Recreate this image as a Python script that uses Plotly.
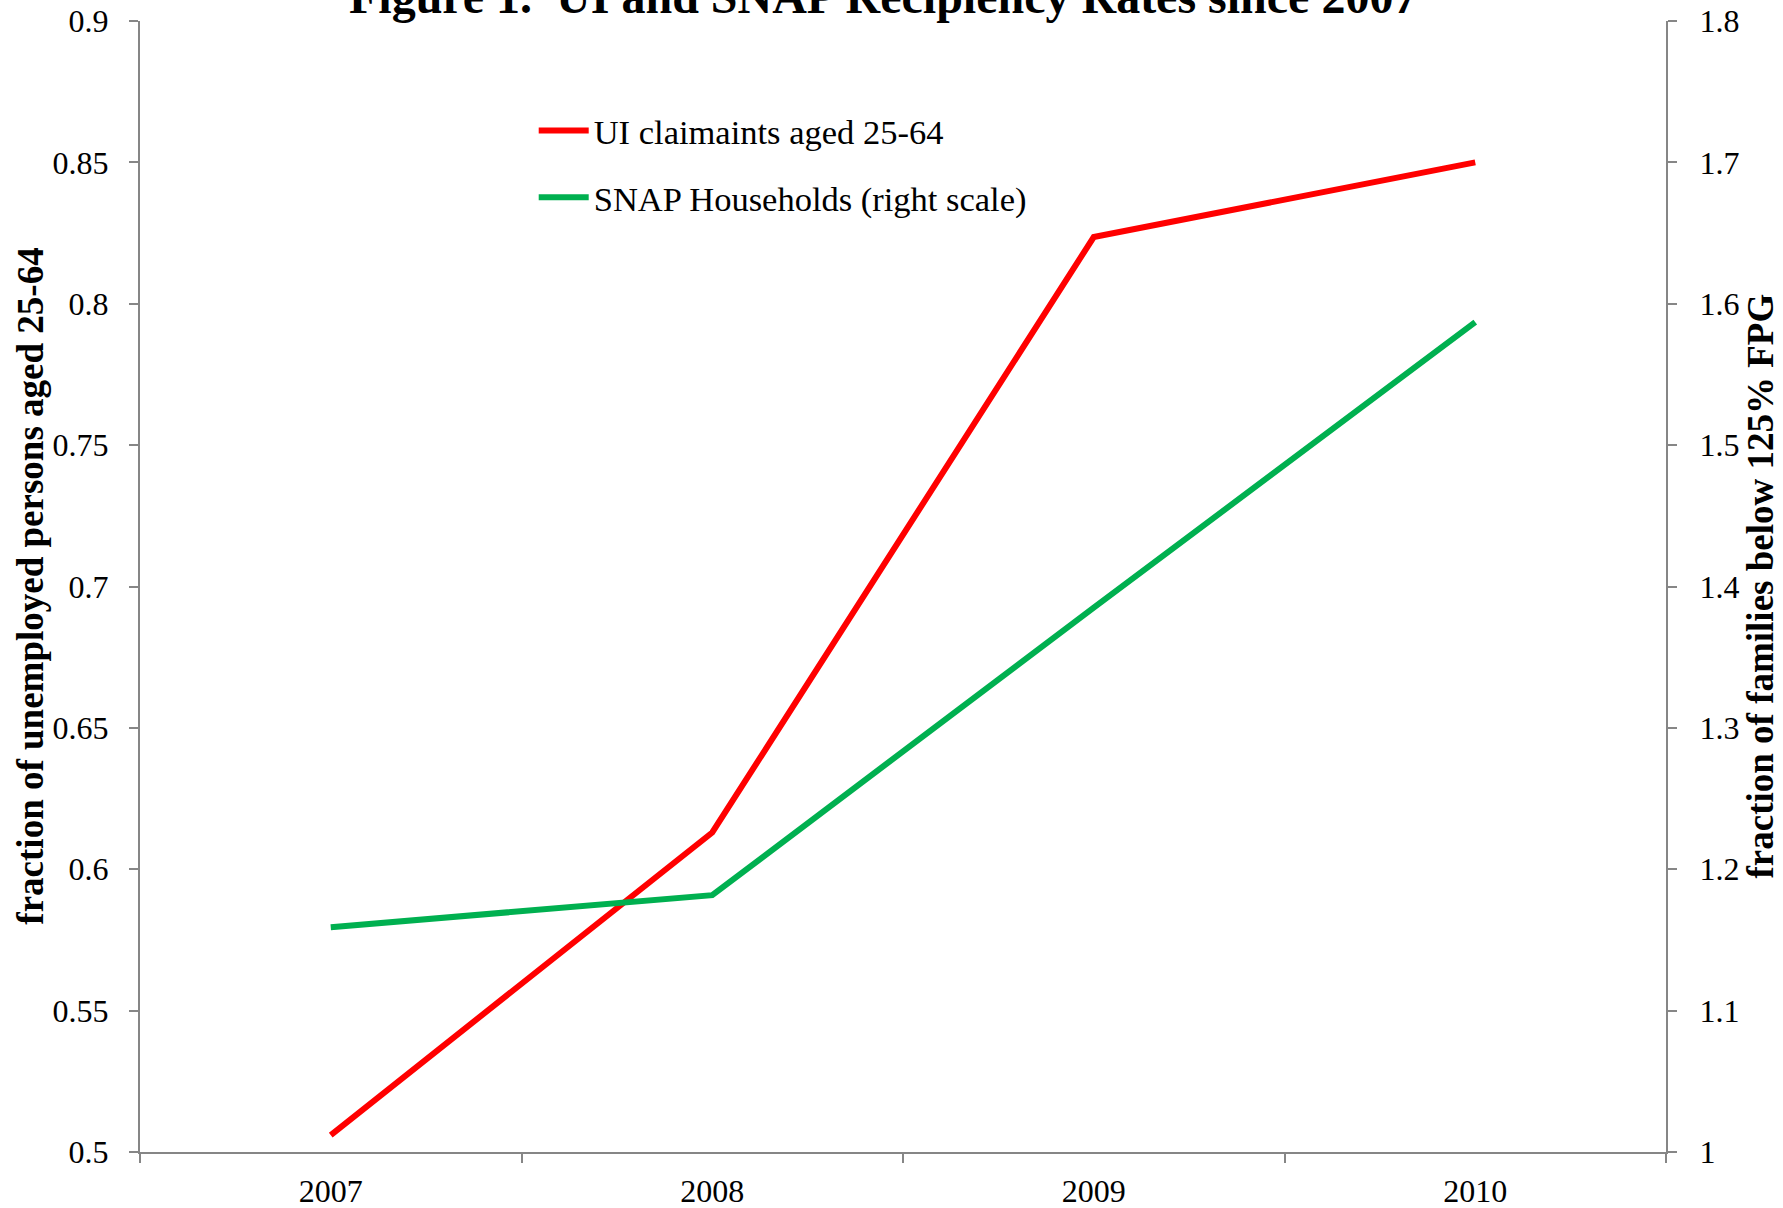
import plotly.graph_objects as go

years = ["2007", "2008", "2009", "2010"]
ui_claimants = [0.506, 0.613, 0.8236, 0.85]
snap_households = [1.159, 1.1817, 1.385, 1.587]

left_tickvals = [0.5, 0.55, 0.6, 0.65, 0.7, 0.75, 0.8, 0.85, 0.9]
left_ticktext = ["0.5", "0.55", "0.6", "0.65", "0.7", "0.75", "0.8", "0.85", "0.9"]
right_tickvals = [1.0, 1.1, 1.2, 1.3, 1.4, 1.5, 1.6, 1.7, 1.8]
right_ticktext = ["1", "1.1", "1.2", "1.3", "1.4", "1.5", "1.6", "1.7", "1.8"]

FONT = "Liberation Serif, Times New Roman, serif"
AXIS = "#868686"

fig = go.Figure()
fig.add_trace(go.Scatter(x=years, y=ui_claimants, mode="lines",
                         name="UI claimaints aged 25-64", legendgroup="a",
                         line=dict(color="#FF0000", width=6)))
fig.add_trace(go.Scatter(x=years, y=snap_households, mode="lines",
                         name="SNAP Households (right scale)", legendgroup="b",
                         line=dict(color="#00B050", width=6), yaxis="y2"))

fig.update_layout(
    width=1783, height=1208,
    margin=dict(l=140, r=117, t=21, b=56),
    paper_bgcolor="white", plot_bgcolor="white",
    font=dict(family=FONT, size=32, color="black"),
    showlegend=True,
    legend=dict(x=0.258, y=0.9288, xanchor="left", yanchor="top",
                font=dict(size=34.5, family=FONT), tracegroupgap=19,
                itemwidth=50, bgcolor="rgba(0,0,0,0)"),
    xaxis=dict(type="category", range=[-0.5, 3.5], tickson="boundaries",
               showline=True, linecolor=AXIS, linewidth=2, automargin=False,
               ticks="outside", ticklen=9, tickwidth=2, tickcolor=AXIS,
               showgrid=False, zeroline=False, ticklabelstandoff=10,
               tickfont=dict(size=32)),
    yaxis=dict(range=[0.5, 0.9], tickvals=left_tickvals, ticktext=left_ticktext,
               showline=True, linecolor=AXIS, linewidth=2, automargin=False,
               ticks="outside", ticklen=9, tickwidth=2, tickcolor=AXIS,
               showgrid=False, zeroline=False, ticklabelstandoff=14,
               tickfont=dict(size=32)),
    yaxis2=dict(range=[1.0, 1.8], tickvals=right_tickvals, ticktext=right_ticktext,
                overlaying="y", side="right", anchor="x", automargin=False,
                showline=True, linecolor=AXIS, linewidth=2,
                ticks="outside", ticklen=9, tickwidth=2, tickcolor=AXIS,
                showgrid=False, zeroline=False, ticklabelstandoff=16,
                tickfont=dict(size=32)),
)

fig.add_annotation(text="<b>Figure 1.\u00a0 UI and SNAP Recipiency Rates since 2007</b>",
                   xref="paper", yref="paper", x=0.487, y=1.0221,
                   xanchor="center", yanchor="middle", showarrow=False,
                   font=dict(size=48, family=FONT))
fig.add_annotation(text="<b>fraction of unemployed persons aged 25-64</b>",
                   xref="paper", yref="paper", x=-0.072, y=0.5,
                   xanchor="center", yanchor="middle", textangle=-90, showarrow=False,
                   font=dict(size=37, family=FONT))
fig.add_annotation(text="<b>fraction of families below 125% FPG</b>",
                   xref="paper", yref="paper", x=1.0616, y=0.5,
                   xanchor="center", yanchor="middle", textangle=-90, showarrow=False,
                   font=dict(size=37, family=FONT))

fig.write_html("out.html")
